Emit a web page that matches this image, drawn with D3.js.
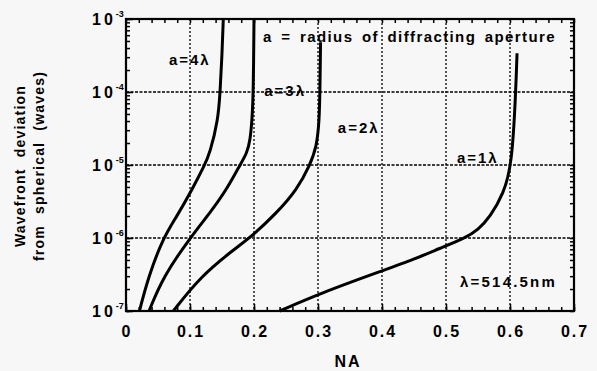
<!DOCTYPE html>
<html>
<head>
<meta charset="utf-8">
<script src="https://cdn.jsdelivr.net/npm/d3@7"></script>
<style>
	body { margin: 0; background: #f7f7f7; }
	svg { display: block; font-family: "Liberation Sans", Arial, sans-serif; font-weight: bold; }
</style>
</head>
<body>
<div id="chart"></div>
<script>
// data: NA (x) and wavefront deviation in waves (y)
var curveLabels = ['a=4λ', 'a=3λ', 'a=2λ', 'a=1λ'];
var na4 = [0.021, 0.035, 0.058, 0.079, 0.103, 0.123, 0.131, 0.144, 0.147, 0.150, 0.152];
var dev4 = [1e-7, 2.95e-7, 1e-6, 1.95e-6, 4.57e-6, 1e-5, 1.45e-5, 4.17e-5, 1e-4, 3.16e-4, 1e-3];
var na3 = [0.036, 0.058, 0.100, 0.131, 0.157, 0.178, 0.189, 0.194, 0.197, 0.199, 0.200];
var dev3 = [1e-7, 2.95e-7, 1e-6, 2.19e-6, 4.57e-6, 1e-5, 1.45e-5, 2.19e-5, 4.17e-5, 1e-4, 1e-3];
var na2 = [0.074, 0.116, 0.168, 0.199, 0.235, 0.267, 0.2875, 0.298, 0.302, 0.303, 0.304];
var dev2 = [1e-7, 2.95e-7, 6.9e-7, 1.1e-6, 2.19e-6, 4.57e-6, 1e-5, 1.78e-5, 4.17e-5, 1e-4, 4.8e-4];
var na1 = [0.240, 0.303, 0.400, 0.450, 0.490, 0.530, 0.550, 0.569, 0.590, 0.603, 0.609, 0.611];
var dev1 = [1e-7, 1.74e-7, 3.55e-7, 5.1e-7, 7.2e-7, 1e-6, 1.29e-6, 1.95e-6, 4.07e-6, 1e-5, 1e-4, 3.4e-4];
var xTicks = [0, 0.1, 0.2, 0.3, 0.4, 0.5, 0.6, 0.7];
var yTicks = [1e-7, 1e-6, 1e-5, 1e-4, 1e-3];
var yExponents = ['-7', '-6', '-5', '-4', '-3'];

var width = 597;
var height = 371;
var margin = {top: 19, right: 23, bottom: 60, left: 126};
var w = width - margin.left - margin.right;
var h = height - margin.top - margin.bottom;

var svg = d3.select('#chart')
	.append('svg')
	.attr('width', width)
	.attr('height', height);

svg.append('rect')
	.attr('width', width)
	.attr('height', height)
	.attr('fill', '#f7f7f7');

var g = svg.append('g')
	.attr('transform', 'translate(' + margin.left + ',' + margin.top + ')');

var x = d3.scaleLinear().domain([0, 0.7]).range([0, w]);
var y = d3.scaleLog().domain([1e-7, 1e-3]).range([h, 0]);

// dotted grid
g.selectAll('.vgrid')
	.data(xTicks.slice(1, -1))
	.enter()
	.append('line')
	.attr('x1', function(d){ return x(d); })
	.attr('x2', function(d){ return x(d); })
	.attr('y1', 0)
	.attr('y2', h)
	.attr('stroke', '#000')
	.attr('stroke-width', 1.3)
	.attr('stroke-dasharray', '2,2');

g.selectAll('.hgrid')
	.data(yTicks.slice(1, -1))
	.enter()
	.append('line')
	.attr('x1', 0)
	.attr('x2', w)
	.attr('y1', function(d){ return y(d); })
	.attr('y2', function(d){ return y(d); })
	.attr('stroke', '#000')
	.attr('stroke-width', 1.3)
	.attr('stroke-dasharray', '3,1.5');

// inward ticks on all four sides
var minorX = d3.range(0, 0.701, 0.02);
var minorY = y.ticks();

g.append('g')
	.call(d3.axisBottom(x).tickValues(minorX).tickSize(-4).tickFormat(''))
	.attr('transform', 'translate(0,' + h + ')');
g.append('g')
	.call(d3.axisTop(x).tickValues(minorX).tickSize(-4).tickFormat(''));
g.append('g')
	.call(d3.axisLeft(y).tickValues(minorY).tickSize(-4).tickFormat(''));
g.append('g')
	.call(d3.axisRight(y).tickValues(minorY).tickSize(-4).tickFormat(''))
	.attr('transform', 'translate(' + w + ',0)');
g.append('g')
	.call(d3.axisBottom(x).tickValues(xTicks).tickSize(-7).tickFormat(''))
	.attr('transform', 'translate(0,' + h + ')');
g.append('g')
	.call(d3.axisLeft(y).tickValues(yTicks).tickSize(-7).tickFormat(''));
g.selectAll('.domain').remove();
g.selectAll('.tick line').attr('stroke', '#000').attr('stroke-width', 1.5);

g.append('rect')
	.attr('width', w)
	.attr('height', h)
	.attr('fill', 'none')
	.attr('stroke', '#000')
	.attr('stroke-width', 2.2);

// tick labels
g.selectAll('.xlabel')
	.data(xTicks)
	.enter()
	.append('text')
	.attr('x', function(d){ return x(d) + 1; })
	.attr('y', h + 26)
	.attr('text-anchor', 'middle')
	.attr('font-size', 16)
	.attr('letter-spacing', 2)
	.text(function(d){ return d === 0 ? '0' : d3.format('.1f')(d); });

var ylab = g.selectAll('.ylabel')
	.data(yTicks)
	.enter()
	.append('text')
	.attr('x', -34)
	.attr('y', function(d){ return y(d) + 6; })
	.attr('font-size', 16)
	.attr('letter-spacing', 3);
ylab.append('tspan').text('10');
ylab.append('tspan')
	.attr('dy', -8)
	.attr('font-size', 9)
	.attr('letter-spacing', 0)
	.text(function(d, i){ return yExponents[i]; });

// curves
var line = d3.line()
	.x(function(d){ return x(d[0]); })
	.y(function(d){ return y(d[1]); })
	.curve(d3.curveBasis);

var series = [d3.zip(na4, dev4), d3.zip(na3, dev3), d3.zip(na2, dev2), d3.zip(na1, dev1)];

g.selectAll('.curve')
	.data(series)
	.enter()
	.append('path')
	.attr('d', line)
	.attr('fill', 'none')
	.attr('stroke', '#000')
	.attr('stroke-width', 3);

// annotations
var notes = [
	{text: curveLabels[0], x: 0.067, y: 65, ls: 2},
	{text: curveLabels[1], x: 0.216, y: 96, ls: 2},
	{text: curveLabels[2], x: 0.331, y: 133, ls: 2},
	{text: curveLabels[3], x: 0.517, y: 163, ls: 2},
	{text: 'a = radius of diffracting aperture', x: 0.214, y: 42, ls: 1.4},
	{text: 'λ=514.5nm', x: 0.522, y: 287, ls: 2.2}
];
g.selectAll('.note')
	.data(notes)
	.enter()
	.append('text')
	.attr('x', function(d){ return x(d.x); })
	.attr('y', function(d){ return d.y - margin.top; })
	.attr('font-size', 15)
	.attr('letter-spacing', function(d){ return d.ls; })
	.attr('word-spacing', 3)
	.text(function(d){ return d.text; });

// axis titles
svg.append('text')
	.attr('x', 348)
	.attr('y', 367)
	.attr('text-anchor', 'middle')
	.attr('font-size', 16)
	.attr('letter-spacing', 2)
	.text('NA');

var yt = svg.append('text')
	.attr('transform', 'translate(25,166) rotate(-90)')
	.attr('text-anchor', 'middle')
	.attr('font-size', 14)
	.attr('letter-spacing', 1.2)
	.attr('word-spacing', 6);
yt.append('tspan').attr('x', 0).attr('dy', 0).text('Wavefront deviation');
yt.append('tspan').attr('x', 0).attr('dy', 19).text('from spherical (waves)');
</script>
</body>
</html>
